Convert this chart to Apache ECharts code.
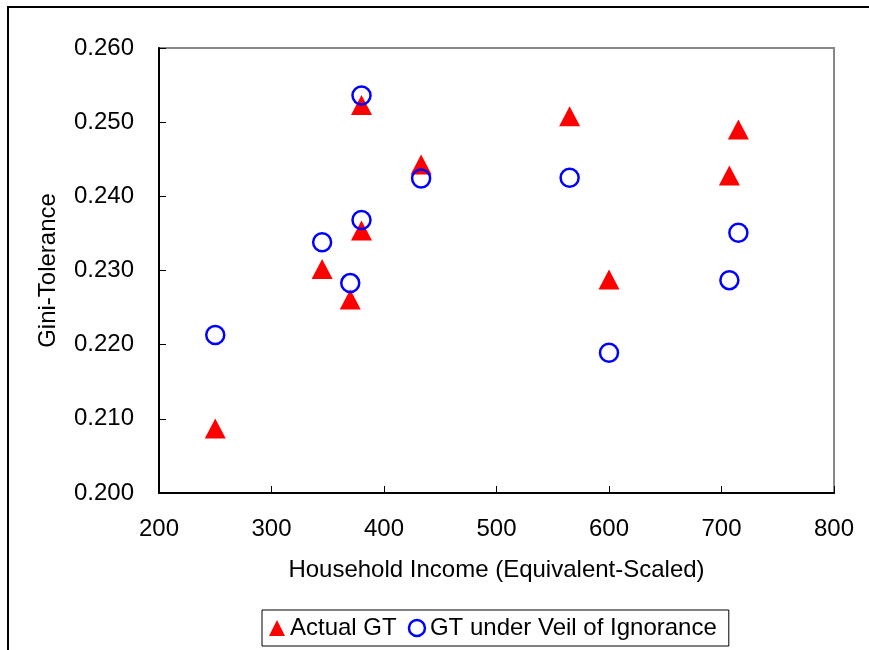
<!DOCTYPE html>
<html lang="en">
<head>
    <meta charset="UTF-8">
    <title>Gini-Tolerance</title>
    <script src="https://cdn.jsdelivr.net/npm/echarts@6/dist/echarts.min.js"></script>
    <style>
        html, body { margin: 0; padding: 0; background: #fff; }
        #chart { width: 869px; height: 650px; }
    </style>
</head>
<body>
    <div id="chart"></div>
    <script>
        // household income (x) and Gini-Tolerance (y)
        var actualIncome = [250, 345, 370, 380, 380, 433, 565, 600, 707, 715];
        var actualGT = [0.2087, 0.2302, 0.2261, 0.2354, 0.2523, 0.2443, 0.2508, 0.2288, 0.2428, 0.2490];

        var veilIncome = [250, 345, 370, 380, 380, 433, 565, 600, 707, 715];
        var veilGT = [0.2213, 0.2338, 0.2283, 0.2368, 0.2536, 0.2424, 0.2425, 0.2189, 0.2287, 0.2351];

        var seriesNames = ['Actual GT', 'GT under Veil of Ignorance'];

        function pairs(xs, ys) {
            var out = [];
            for (var i = 0; i < xs.length; i++) out.push([xs[i], ys[i]]);
            return out;
        }

        var chart = echarts.init(document.getElementById('chart'));
        var font = 'Liberation Sans, Arial, sans-serif';

        var option = {
            animation: false,
            textStyle: { fontFamily: font, color: '#000' },
            graphic: [{
                type: 'rect',
                shape: { x: 8, y: 7, width: 900, height: 700 },
                style: { fill: 'none', stroke: '#000', lineWidth: 2 },
                silent: true
            }],
            grid: {
                left: 159, top: 48, right: 35, bottom: 157,
                show: true, borderColor: '#888', borderWidth: 2,
                outerBoundsMode: 'none'
            },
            legend: {
                data: [
                    { name: seriesNames[0], icon: 'triangle', itemStyle: { color: '#ff0000' } },
                    { name: seriesNames[1], icon: 'circle', itemStyle: { color: '#fff', borderColor: '#0000ff', borderWidth: 2.5 } }
                ],
                left: 262, top: 610,
                itemWidth: 16, itemHeight: 16, itemGap: 11,
                padding: [6, 12, 6, 7],
                borderColor: '#000', borderWidth: 1, borderRadius: 0,
                textStyle: { fontFamily: font, fontSize: 24, color: '#000' }
            },
            xAxis: {
                type: 'value', min: 200, max: 800, interval: 100,
                name: 'Household Income (Equivalent-Scaled)',
                nameLocation: 'middle', nameGap: 65,
                nameTextStyle: { fontSize: 24, color: '#000' },
                axisLine: { lineStyle: { color: '#000', width: 2 } },
                axisTick: { inside: true, length: 7, lineStyle: { color: '#000' } },
                axisLabel: { fontSize: 24, color: '#000', margin: 24 },
                splitLine: { show: false }
            },
            yAxis: {
                type: 'value', min: 0.2, max: 0.26, interval: 0.01,
                name: 'Gini-Tolerance',
                nameLocation: 'middle', nameGap: 99, nameRotate: 90,
                nameTextStyle: { fontSize: 24, color: '#000' },
                axisLine: { show: true, lineStyle: { color: '#000', width: 2 } },
                axisTick: { show: true, inside: true, length: 7, lineStyle: { color: '#000' } },
                axisLabel: {
                    fontSize: 24, color: '#000', margin: 25,
                    formatter: function (v) { return v.toFixed(3); }
                },
                splitLine: { show: false }
            },
            series: [
                {
                    name: seriesNames[0],
                    type: 'scatter',
                    symbol: 'triangle',
                    symbolSize: [21, 20],
                    itemStyle: { color: '#ff0000', opacity: 1 },
                    data: pairs(actualIncome, actualGT)
                },
                {
                    name: seriesNames[1],
                    type: 'scatter',
                    symbol: 'circle',
                    symbolSize: 18,
                    itemStyle: { color: 'rgba(0,0,0,0)', borderColor: '#0000ff', borderWidth: 2.5, opacity: 1 },
                    data: pairs(veilIncome, veilGT)
                }
            ]
        };
        chart.setOption(option);
    </script>
</body>
</html>
